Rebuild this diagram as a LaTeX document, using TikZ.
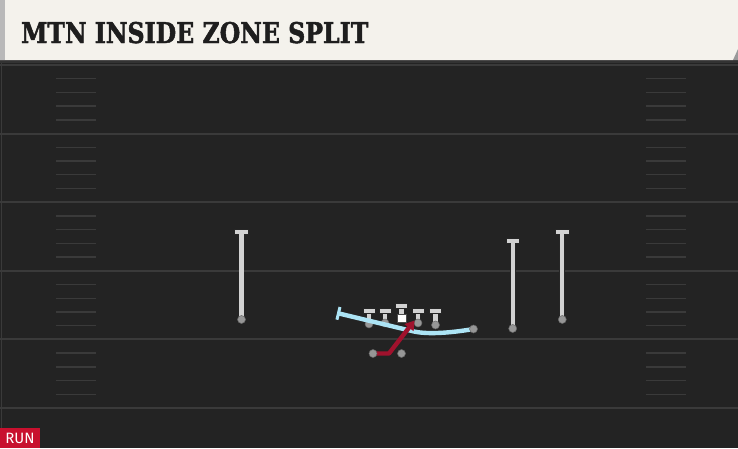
\documentclass[tikz,border=0pt]{standalone}
\usepackage{fontspec}
\usetikzlibrary{arrows.meta}
\newfontfamily\titlefont[FakeStretch=0.83, FakeBold=1.6]{DejaVu Serif}
\newfontfamily\tagfont{Fira Sans}
\definecolor{fieldbg}{RGB}{35,35,35}
\definecolor{yardline}{RGB}{58,58,58}
\definecolor{hashline}{RGB}{58,58,58}
\definecolor{paper}{RGB}{244,242,236}
\definecolor{ink}{RGB}{30,30,30}
\definecolor{stemgray}{RGB}{210,210,210}
\definecolor{dotgray}{RGB}{150,150,150}
\definecolor{zblue}{RGB}{172,228,245}
\definecolor{zred}{RGB}{160,18,45}
\definecolor{tagred}{RGB}{200,16,46}
\tikzset{
  dot/.style={circle, fill=dotgray, draw=black!60, line width=0.5pt, inner sep=0pt, minimum size=8pt},
  tbar/.style={rectangle, fill=stemgray, draw=black!85, line width=0.8pt, inner sep=0pt, minimum width=13.5pt, minimum height=5pt},
  olbar/.style={tbar, minimum width=12pt, minimum height=4.5pt},
  stem/.style={draw=black!85, double=stemgray, double distance=4.2pt, line width=0.8pt},
  block/.style={draw=zblue, line width=4.4pt, line join=round, -{Bar[width=13pt, line width=3pt]}},
  run/.style={draw=zred, line width=4.4pt, line join=round, -{Triangle[length=9pt, width=11pt]}},
  runtag/.style={rectangle, fill=tagred, text=white, inner sep=0pt, minimum width=40pt, minimum height=20pt, font=\tagfont\fontsize{15}{15}\selectfont}
}
\begin{document}
\begin{tikzpicture}[x=1pt, y=-1pt]
\useasboundingbox (0,0) rectangle (738,448);

\fill[fieldbg] (0,60) rectangle (738,448);
\fill[black!80] (0,60) rectangle (738,63);
\draw[yardline, line width=1.2pt] (1.5,63) -- (1.5,448);

\foreach \k in {0,...,5}
{
    \draw[yardline, line width=2pt] (0,65+68.6*\k) -- (738,65+68.6*\k);
}
\foreach \k in {0,...,4}
{
    \foreach \j in {1,...,4}
    {
        \draw[hashline, line width=1.4pt] (56,65+68.6*\k+13.72*\j) -- (96,65+68.6*\k+13.72*\j);
        \draw[hashline, line width=1.4pt] (646,65+68.6*\k+13.72*\j) -- (686,65+68.6*\k+13.72*\j);
    }
}

\fill[paper] (0,0) -- (738,0) -- (738,49) -- (733,60) -- (0,60) -- cycle;
\fill[gray!80] (738,49) -- (738,60) -- (733,60) -- cycle;
\fill[gray!55] (0,0) rectangle (4.5,60);
\node[anchor=base west, inner sep=0pt, text=ink] (title) at (21,43) {\titlefont\bfseries\fontsize{28.5}{28.5}\selectfont MTN INSIDE ZONE SPLIT};

\node[tbar] (lwrbar) at (241.5,231.5) {};
\node[tbar] (swrbar) at (512.7,240.5) {};
\node[tbar] (xwrbar) at (562.3,231.5) {};
\coordinate (lwr) at (241.5,319.5);
\coordinate (swr) at (512.7,328.5);
\coordinate (xwr) at (562.3,319.5);
\draw[stem] (lwr) -- (lwrbar);
\draw[stem] (swr) -- (swrbar);
\draw[stem] (xwr) -- (xwrbar);
\node[dot] (lwrdot) at (lwr) {};
\node[dot] (swrdot) at (swr) {};
\node[dot] (xwrdot) at (xwr) {};

\node[olbar] (ltbar) at (369,311) {};
\node[olbar] (lgbar) at (385,311) {};
\node[olbar] (cbar) at (401.5,306) {};
\node[olbar] (rgbar) at (418,311) {};
\node[olbar] (rtbar) at (435.5,311) {};
\coordinate (lt) at (369,324);
\coordinate (lg) at (385,323);
\coordinate (rg) at (418,323);
\coordinate (rt) at (435.5,325);
\draw[stem] (lt) -- (ltbar);
\draw[stem] (lg) -- (lgbar);
\draw[stem] (rg) -- (rgbar);
\draw[stem] (rt) -- (rtbar);
\node[dot] (ltdot) at (lt) {};
\node[dot] (lgdot) at (lg) {};
\node[dot] (rgdot) at (rg) {};
\node[dot] (rtdot) at (rt) {};
\node[rectangle, fill=white, draw=black!70, line width=0.5pt, inner sep=0pt, minimum width=9pt, minimum height=8.5pt] (ball) at (401.5,318) {};
\draw[stem] (ball) -- (cbar);

\coordinate (hb) at (473.5,329);
\coordinate (kick) at (337,313);
\coordinate (rb) at (373,353.5);
\coordinate (qb) at (401.5,353.5);
\coordinate (cut) at (389,353.5);
\coordinate (aim) at (414.5,320.5);

\draw[block] (hb) .. controls (450,333) and (428,334.5) .. (414,331.5) -- (kick);
\draw[run] (rb) -- (cut) -- (aim);

\node[dot] (hbdot) at (hb) {};
\node[dot] (rbdot) at (rb) {};
\node[dot] (qbdot) at (qb) {};

\node[runtag] (tag) at (20,438) {RUN};

\end{tikzpicture}
\end{document}
